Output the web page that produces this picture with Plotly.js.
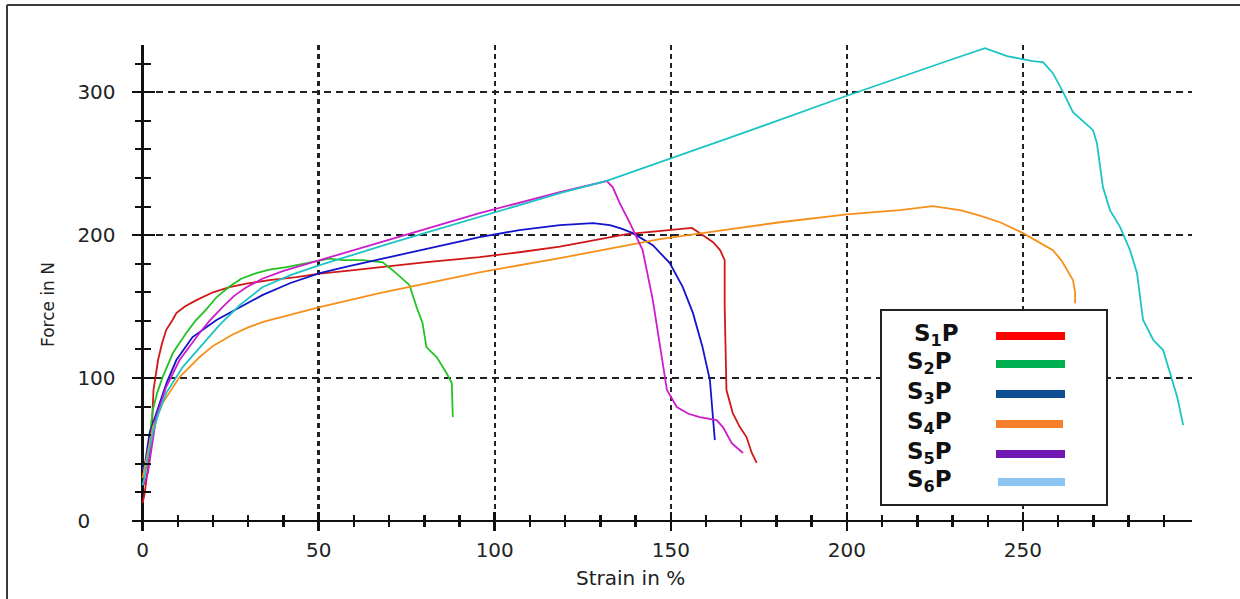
<!DOCTYPE html>
<html>
<head>
<meta charset="utf-8">
<script src="https://cdn.plot.ly/plotly-3.0.1.min.js"></script>
<style>
  html, body { margin: 0; padding: 0; background: #ffffff; }
  #chart { width: 1240px; height: 599px; }
</style>
</head>
<body>
<div id="chart"></div>
<script>
// Tensile test curves: force versus strain for six specimens

const s1Strain = [0, 0.5, 1.1, 2.0, 2.5, 3.1, 4.4, 5.5, 6.7, 8.5, 9.6, 12, 15.3, 20, 24.7, 29.5, 36, 43.7, 50.3, 58, 67.3, 80, 95.7, 107, 118.5, 128, 137.5, 145, 152.6, 156, 159, 162, 164, 165.3, 165.3, 165.5, 165.8, 167.6, 169.6, 171.5, 173, 174.4];
const s1Force  = [12.6, 18, 28.7, 45, 56.6, 91.6, 112.6, 124, 133.6, 140.6, 145.4, 150, 154.5, 160, 163.6, 166, 168.5, 170.6, 173, 175, 177.6, 181, 184.6, 188, 192, 196.5, 200.7, 202.5, 204, 205, 200, 195, 189.5, 182.5, 150, 128.7, 91.6, 75.5, 65.7, 58.7, 47.6, 40.6];

const s2Strain = [0, 0.8, 1.5, 2.2, 2.9, 4.2, 5.7, 8.6, 12.4, 15, 18.1, 21, 24.7, 28, 32.3, 36, 40.9, 47, 53, 56.8, 62.5, 68.2, 72, 75.8, 77.8, 79.5, 80.6, 83.5, 86.3, 87.8, 88.1];
const s2Force  = [36, 40, 48, 62, 77.6, 90, 100.7, 117.5, 131.5, 140, 148, 156.5, 164, 169.5, 173.4, 175.8, 177.6, 180.5, 183.5, 182.5, 182.5, 181, 173.4, 165, 149.7, 138.5, 121.7, 114.7, 103.5, 96.5, 72.7];

const s3Strain = [0, 0.8, 2, 3.5, 4.8, 6.8, 9.6, 14.2, 21, 27.6, 34, 42, 50.3, 58, 66.5, 80, 95.7, 107, 118.5, 127.9, 132.7, 136, 139.2, 142, 144.9, 149.7, 153.4, 156.3, 159, 161.1, 161.9, 162.5];
const s3Force  = [35, 42, 61.5, 72, 82.5, 96.5, 112.6, 128.7, 140.6, 149.7, 158, 166.5, 173.4, 178, 182.5, 190, 198.6, 203.5, 207, 208.4, 207, 204.5, 201.4, 197.5, 193, 180.4, 163.6, 145.4, 121.7, 98.6, 72.7, 56.6];

const s4Strain = [0, 0.6, 1.5, 2.9, 5.7, 10.5, 16.2, 20, 25.6, 30, 34.5, 39.8, 50.3, 67.3, 80, 95.7, 118.5, 146.9, 165, 181, 200, 215, 224.4, 232.1, 238, 243.5, 250, 254, 258.5, 261, 264.2, 264.8, 264.8];
const s4Force  = [30, 37.8, 50, 65.7, 82.5, 100.7, 114.7, 122.5, 130.5, 135.5, 139.5, 143, 149.7, 159.4, 166, 174, 183.9, 197.2, 203.5, 209, 214.5, 217.5, 220.3, 217.5, 213.5, 209, 201.4, 196, 189.5, 182, 168.5, 160, 152.4];

const s5Strain = [0.3, 1.5, 2.5, 3.9, 6.7, 10.5, 16.2, 19, 22.7, 26, 29.5, 34, 40, 50.3, 70, 95.7, 118.5, 131.8, 133.5, 135.5, 138.4, 142, 144.9, 146.9, 148.9, 151.7, 155, 158.2, 163, 164.8, 167.3, 170.5];
const s5Force  = [25, 33.6, 50, 72.7, 93.7, 112.6, 131.5, 140, 149.7, 157.5, 163.5, 169.5, 175, 182.5, 197, 215.4, 230, 237.8, 233.6, 222.4, 208.4, 189.5, 154.5, 124.5, 91.6, 79.7, 75, 72.7, 70.6, 65.7, 54.5, 47.6];

const s6Strain = [0, 0.6, 1.5, 2.9, 4.5, 6.7, 11.4, 18.1, 21.8, 27.6, 34, 42, 50.3, 70, 95.7, 118.5, 131.8, 146.9, 170, 200, 215, 229.3, 239.2, 245.5, 252.8, 255.7, 258.5, 261.4, 264.2, 269.9, 271, 272.7, 274.7, 277.6, 280.4, 282.4, 284.1, 287, 289.8, 291.8, 293.8, 295.5];
const s6Force  = [25, 30.8, 45, 61.5, 75, 89.5, 107.7, 126.6, 137, 151, 163.5, 172, 179, 194, 212.6, 229.4, 238, 251, 271, 297.5, 310.5, 322.5, 330.8, 325.2, 321.7, 321, 313.3, 300, 286, 273.4, 264.3, 233.6, 217.5, 205.6, 189.5, 173.4, 140.6, 126.6, 119.6, 103.5, 86.7, 67.1];

const curveColors  = ['#d01818', '#22c322', '#1414cc', '#f7901a', '#cc1ccc', '#1cc4c4'];
const legendLabels = ['S<sub>1</sub>P', 'S<sub>2</sub>P', 'S<sub>3</sub>P', 'S<sub>4</sub>P', 'S<sub>5</sub>P', 'S<sub>6</sub>P'];
const legendColors = ['#ff0000', '#00b050', '#0f4e90', '#f57f2a', '#7118b2', '#8cc4f2'];

const xTickVals = [0, 50, 100, 150, 200, 250];
const xTickText = ['0', '50', '100', '150', '200', '250'];
const yTickVals = [0, 100, 200, 300];
const yTickText = ['0\u2007\u2007', '100', '200', '300'];

const xTitle = 'Strain in %';
const yTitle = 'Force in N';

// ---- geometry -------------------------------------------------------------
const W = 1240, H = 599;
const plotL = 132, plotR = 1192, plotT = 45, plotB = 530;
const xRange = [-3, 298];
const yRange = [-6.3, 333];
const px = v => (v - plotL) / (plotR - plotL);   // pixel -> paper x
const py = v => (plotB - v) / (plotB - plotT);   // pixel -> paper y
const xAxisPos = (0 - yRange[0]) / (yRange[1] - yRange[0]);
const yAxisPos = (0 - xRange[0]) / (xRange[1] - xRange[0]);

const seriesX = [s1Strain, s2Strain, s3Strain, s4Strain, s5Strain, s6Strain];
const seriesY = [s1Force, s2Force, s3Force, s4Force, s5Force, s6Force];

const traces = seriesX.map((xs, i) => ({
  type: 'scatter', mode: 'lines', x: xs, y: seriesY[i],
  line: { color: curveColors[i], width: 1.8 },
  showlegend: false, hoverinfo: 'skip'
}));
// companion subplot carrying the inward half of the crossing ticks
traces.push({ type: 'scatter', mode: 'lines', x: [], y: [], xaxis: 'x2', yaxis: 'y2',
  showlegend: false, hoverinfo: 'skip' });

const tickFont = { family: 'DejaVu Sans, sans-serif', size: 20, color: '#222' };

const shapes = [];
const annotations = [];

// page frame (top and left edges)
shapes.push({ type: 'line', xref: 'paper', yref: 'paper', x0: px(7), x1: px(W + 5), y0: py(5), y1: py(5),
  line: { color: '#3a3a3a', width: 2 } });
shapes.push({ type: 'line', xref: 'paper', yref: 'paper', x0: px(7), x1: px(7), y0: py(5), y1: py(H + 5),
  line: { color: '#3a3a3a', width: 2 } });

// legend box
const legL = 881, legR = 1107, legT = 310, legB = 505;
shapes.push({ type: 'rect', xref: 'paper', yref: 'paper', layer: 'above',
  x0: px(legL), x1: px(legR), y0: py(legB), y1: py(legT),
  fillcolor: '#ffffff', line: { color: '#222', width: 2 } });
const legRowY = [336, 364, 394, 424, 454, 482];
legendLabels.forEach((lab, i) => {
  shapes.push({ type: 'line', xref: 'paper', yref: 'paper', layer: 'above',
    x0: px(i === 5 ? 998 : 996), x1: px(i === 3 ? 1063 : 1065), y0: py(legRowY[i]), y1: py(legRowY[i]),
    line: { color: legendColors[i], width: 8 } });
  annotations.push({ xref: 'paper', yref: 'paper', x: px(i === 0 ? 912 : 905), y: py(legRowY[i] - 1),
    xanchor: 'left', yanchor: 'middle', showarrow: false,
    text: '<b>' + lab + '</b>',
    font: { family: 'DejaVu Sans, sans-serif', size: 23, color: '#111' } });
});

// axis titles
annotations.push({ xref: 'paper', yref: 'paper', x: px(630), y: py(578), xanchor: 'center', yanchor: 'middle',
  showarrow: false, text: xTitle, font: { family: 'DejaVu Sans, sans-serif', size: 20, color: '#222' } });
annotations.push({ xref: 'paper', yref: 'paper', x: px(48), y: py(305), xanchor: 'center', yanchor: 'middle',
  showarrow: false, textangle: -90, text: yTitle, font: { family: 'DejaVu Sans, sans-serif', size: 17, color: '#222' } });

const layout = {
  width: W, height: H,
  margin: { l: plotL, r: W - plotR, t: plotT, b: H - plotB, pad: 0 },
  paper_bgcolor: '#ffffff', plot_bgcolor: '#ffffff',
  showlegend: false,
  xaxis: {
    range: xRange, anchor: 'free', position: xAxisPos,
    showline: false, zeroline: true, zerolinecolor: '#111', zerolinewidth: 3,
    tickmode: 'array', tickvals: xTickVals, ticktext: xTickText,
    ticks: 'outside', ticklen: 9, tickwidth: 2.5, tickcolor: '#111',
    ticklabelstandoff: 2, tickfont: tickFont,
    minor: { dtick: 10, tick0: 0, ticks: 'outside', ticklen: 5.5, tickwidth: 2.5, tickcolor: '#111', showgrid: false },
    showgrid: true, gridcolor: '#222', gridwidth: 2.4, griddash: '5px,4px'
  },
  yaxis: {
    range: yRange, anchor: 'free', position: yAxisPos,
    showline: false, zeroline: true, zerolinecolor: '#111', zerolinewidth: 2,
    tickmode: 'array', tickvals: yTickVals, ticktext: yTickText,
    ticks: 'outside', ticklen: 11, tickwidth: 2, tickcolor: '#111',
    ticklabelstandoff: 12, tickfont: tickFont,
    minor: { dtick: 20, tick0: 0, ticks: 'outside', ticklen: 7.5, tickwidth: 2, tickcolor: '#111', showgrid: false },
    showgrid: true, gridcolor: '#222', gridwidth: 1.8, griddash: '7px,5px'
  },
  xaxis2: {
    range: xRange, overlaying: 'x', anchor: 'free', position: xAxisPos,
    showline: false, zeroline: false, showgrid: false, showticklabels: false,
    tickmode: 'array', tickvals: xTickVals,
    ticks: 'inside', ticklen: 9, tickwidth: 2.5, tickcolor: '#111',
    minor: { dtick: 10, tick0: 0, ticks: 'inside', ticklen: 5.5, tickwidth: 2.5, tickcolor: '#111', showgrid: false }
  },
  yaxis2: {
    range: yRange, overlaying: 'y', anchor: 'free', position: yAxisPos,
    showline: false, zeroline: false, showgrid: false, showticklabels: false,
    tickmode: 'array', tickvals: yTickVals,
    ticks: 'inside', ticklen: 11, tickwidth: 2, tickcolor: '#111',
    minor: { dtick: 20, tick0: 0, ticks: 'inside', ticklen: 7.5, tickwidth: 2, tickcolor: '#111', showgrid: false }
  },
  shapes: shapes,
  annotations: annotations
};

Plotly.newPlot('chart', traces, layout, { staticPlot: true, displayModeBar: false });
</script>
</body>
</html>
